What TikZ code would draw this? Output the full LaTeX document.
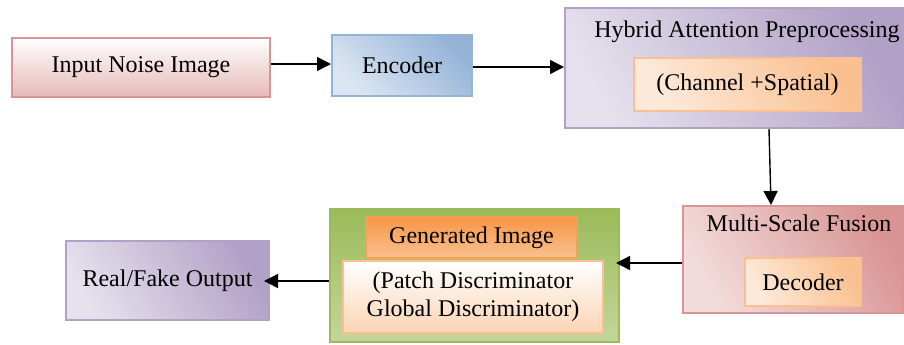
\documentclass[tikz,border=0pt]{standalone}
\usepackage{fontspec}
\setmainfont{Liberation Serif}
\usetikzlibrary{positioning}
\usetikzlibrary{arrows.meta}
\definecolor{pinkB}{HTML}{D99594}
\definecolor{pinkL}{HTML}{F2DCDB}
\definecolor{pinkM}{HTML}{E6B9B8}
\definecolor{blueB}{HTML}{95B3D7}
\definecolor{blueL}{HTML}{DCE6F2}
\definecolor{lavB}{HTML}{B2A1C7}
\definecolor{lavL}{HTML}{E5E0EC}
\definecolor{peachB}{HTML}{FAC090}
\definecolor{peachL}{HTML}{FDE9D9}
\definecolor{peachM}{HTML}{FBD4B4}
\definecolor{greenB}{HTML}{9BBB59}
\definecolor{greenL}{HTML}{C3D69B}
\definecolor{orangeT}{HTML}{F79646}
\tikzset{
    block/.style = {rectangle,draw,line width=1pt,inner sep=0pt,align=center},
    pinkbox/.style = {block,draw=pinkB,top color=white,bottom color=pinkM},
    bluebox/.style = {block,draw=blueB,left color=blueL,right color=blueB,shading angle=135},
    lavbox/.style = {block,draw=lavB,left color=lavL,right color=lavB,shading angle=120},
    rosebox/.style = {block,draw=pinkB,left color=pinkL,right color=pinkB,shading angle=120},
    peachbox/.style = {block,draw=peachB,left color=peachL,right color=peachB,shading angle=120},
    greenbox/.style = {block,draw=greenB,top color=greenB,bottom color=greenL},
    genbox/.style = {block,draw=orangeT!80!peachB,top color=orangeT,bottom color=peachB},
    discbox/.style = {block,draw=peachB,top color=white,bottom color=peachM},
    title/.style = {inner sep=0pt},
    flow/.style = {line width=0.7pt,-{Triangle[length=7pt,width=7pt]}}}

\begin{document}
\begin{tikzpicture}[x=0.5pt,y=-0.5pt,node font=\fontsize{12}{14}\selectfont]
    \useasboundingbox (0,0) rectangle (904,344);
    % top row
    \node[pinkbox,minimum width=129pt,minimum height=29.5pt] (input) at (141,67.5) {Input Noise Image};
    \node[bluebox,minimum width=70pt,minimum height=30.5pt] (enc) at (402,65.5) {Encoder};
    \node[lavbox,minimum width=169pt,minimum height=60pt] (hybrid) at (734,68) {};
    \node[title] (hybridtitle) at (747,32) {Hybrid Attention Preprocessing};
    \node[peachbox,minimum width=113.5pt,minimum height=26.5pt] (chan) at (747.5,84.5) {(Channel +Spatial)};
    % bottom row
    \node[rosebox,minimum width=110pt,minimum height=53.5pt] (multi) at (793,259.5) {};
    \node[title] (multititle) at (799,223) {Multi-Scale Fusion};
    \node[peachbox,minimum width=58pt,minimum height=24pt] (dec) at (803,282) {Decoder};
    \node[greenbox,minimum width=144.5pt,minimum height=66.5pt] (disc) at (474.5,275.5) {};
    \node[genbox,minimum width=105.5pt,minimum height=20.5pt] (gen) at (471.5,237.5) {Generated Image};
    \node[discbox,minimum width=130pt,minimum height=36pt] (patch) at (473,297) {(Patch Discriminator\\Global Discriminator)};
    \node[lavbox,minimum width=101.5pt,minimum height=39.5pt] (real) at (167.5,280.5) {Real/Fake Output};
    % arrow rows
    \path (0,64) coordinate (row1) (0,67) coordinate (row2)
        (0,263) coordinate (row3) (0,281) coordinate (row4)
        (769,0) coordinate (col1) (771,0) coordinate (col2);
    \draw[flow] (input.east |- row1) -- (enc.west |- row1);
    \draw[flow] (enc.east |- row2) -- (hybrid.west |- row2);
    \draw[flow] (col1 |- hybrid.south) -- (col2 |- multi.north);
    \draw[flow] (multi.west |- row3) -- ([xshift=-2pt]disc.east |- row3);
    \draw[flow] (disc.west |- row4) -- ([xshift=-3pt]real.east |- row4);
\end{tikzpicture}
\end{document}
